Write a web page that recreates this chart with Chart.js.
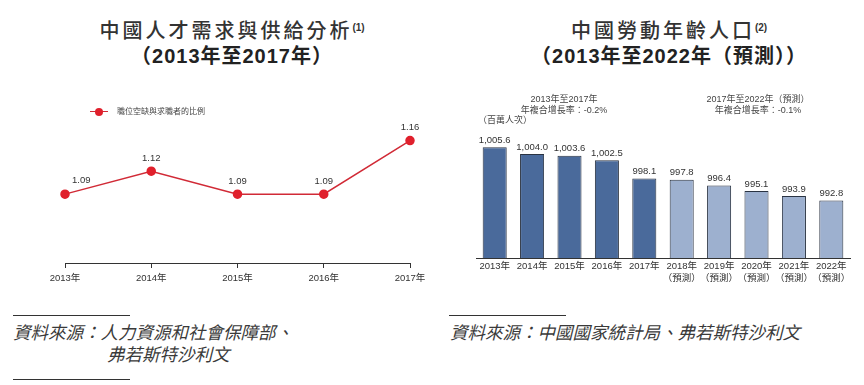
<!DOCTYPE html>
<html>
<head>
<meta charset="utf-8">
<script src="https://cdn.jsdelivr.net/npm/chart.js@4.4.1/dist/chart.umd.min.js"></script>
<style>
  html, body { margin:0; padding:0; background:#fff; }
  body { width:864px; height:385px; position:relative; overflow:hidden;
         font-family:"Liberation Sans","Noto Sans CJK TC",sans-serif; color:#333; }
  .abs { position:absolute; white-space:nowrap; }
  .t1 { font-size:20px; letter-spacing:3px; color:#333; font-weight:500; transform:translateX(-50%); line-height:24px; }
  .t2 { font-size:20px; letter-spacing:1px; color:#222; font-weight:bold; transform:translateX(-50%); line-height:24px; }
  .t1 sup { font-size:10px; letter-spacing:0; font-weight:bold; vertical-align:top; position:relative; top:-3px; }
  .wrap { position:absolute; }
  .note { font-size:9px; color:#444; transform:translateX(-50%); line-height:11px; text-align:center; }
  .src { font-family:"Liberation Serif","Noto Sans CJK TC",serif; font-style:italic; font-size:17.5px; color:#3a3a3a; line-height:22px; }
  .rule { position:absolute; height:0; border-top:1px solid #333; }
</style>
</head>
<body>
<div class="abs t1" style="left:232px; top:19px;">中國人才需求與供給分析<sup>(1)</sup></div>
<div class="abs t2" style="left:232px; top:44px;">（2013年至2017年）</div>
<div class="abs t1" style="left:669px; top:19px;">中國勞動年齡人口<sup>(2)</sup></div>
<div class="abs t2" style="left:669px; top:44px;">（2013年至2022年（預測））</div>

<div class="wrap" style="left:0; top:0; width:432px; height:293px;"><canvas id="c1"></canvas></div>
<div class="wrap" style="left:440px; top:0; width:424px; height:298px;"><canvas id="c2"></canvas></div>

<!-- legend -->
<div class="abs" style="left:90px; top:111px; width:18px; border-top:1.5px solid #d12a36;"></div>
<div class="abs" style="left:95px; top:108px; width:8px; height:8px; border-radius:50%; background:#e0202c;"></div>
<div class="abs" style="left:117px; top:106px; font-size:8px; color:#444; line-height:11px;">職位空缺與求職者的比例</div>

<!-- right annotations -->
<div class="abs note" style="left:564px; top:94px;">2013年至2017年<br>年複合增長率：-0.2%</div>
<div class="abs note" style="left:758px; top:94px;">2017年至2022年（預測）<br>年複合增長率：-0.1%</div>
<div class="abs" style="left:478px; top:115px; font-size:9px; color:#444; line-height:11px;">（百萬人次）</div>

<!-- sources -->
<div class="rule" style="left:13px; top:315px; width:117px;"></div>
<div class="abs src" style="left:13px; top:322px;">資料來源：人力資源和社會保障部、</div>
<div class="abs src" style="left:107px; top:344px;">弗若斯特沙利文</div>
<div class="rule" style="left:13px; top:379px; width:117px;"></div>
<div class="rule" style="left:449px; top:315px; width:117px;"></div>
<div class="abs src" style="left:450px; top:322px;">資料來源：中國國家統計局、弗若斯特沙利文</div>

<script>
// ---- data ----
const ratioYears = ["2013年","2014年","2015年","2016年","2017年"];
const ratioValues = [1.09, 1.12, 1.09, 1.09, 1.16];
const ratioLabel = "職位空缺與求職者的比例";

const laborYears = ["2013年","2014年","2015年","2016年","2017年","2018年","2019年","2020年","2021年","2022年"];
const laborForecast = [false,false,false,false,false,true,true,true,true,true];
const laborValues = [1005.6, 1004.0, 1003.6, 1002.5, 998.1, 997.8, 996.4, 995.1, 993.9, 992.8];

const tickFont = { family: '"Liberation Sans","Noto Sans CJK TC",sans-serif', size: 9.5, lineHeight: 1.2 };

// ---- left: line chart ----
const lineLabels = {
  id: 'lineLabels',
  afterDatasetsDraw(chart) {
    const ctx = chart.ctx;
    const meta = chart.getDatasetMeta(0);
    ctx.save();
    ctx.fillStyle = '#333';
    ctx.font = '9.5px "Liberation Sans", sans-serif';
    ctx.textBaseline = 'middle';
    meta.data.forEach((pt, i) => {
      const txt = ratioValues[i].toFixed(2);
      if (i === 0) { ctx.textAlign = 'left'; ctx.fillText(txt, pt.x + 7, pt.y - 14); }
      else { ctx.textAlign = 'center'; ctx.fillText(txt, pt.x, pt.y - 13); }
    });
    ctx.restore();
  }
};

new Chart(document.getElementById('c1'), {
  type: 'line',
  data: {
    labels: ratioYears,
    datasets: [{
      label: ratioLabel,
      data: ratioValues,
      borderColor: '#d12a36',
      borderWidth: 1.5,
      backgroundColor: '#e0202c',
      pointBackgroundColor: '#e0202c',
      pointBorderColor: '#e0202c',
      pointRadius: 4,
      tension: 0,
      clip: false
    }]
  },
  options: {
    responsive: true, maintainAspectRatio: false, animation: false,
    layout: { padding: { left: 65, right: 22, top: 110, bottom: 0 } },
    plugins: { legend: { display: false }, tooltip: { enabled: false } },
    scales: {
      y: { display: false, min: 1.0, max: 1.2 },
      x: {
        offset: false,
        grid: { display: true, drawOnChartArea: false, drawTicks: true, tickLength: 5, color: '#333', lineWidth: 1 },
        border: { display: true, color: '#333', width: 1 },
        ticks: { color: '#333', font: tickFont, padding: 5, maxRotation: 0, autoSkip: false },
        afterFit(s) { s.height = 30; }
      }
    }
  },
  plugins: [lineLabels]
});

// ---- right: bar chart ----
function fmt(v) {
  const s = v.toFixed(1);
  const [a, b] = s.split('.');
  return a.replace(/\B(?=(\d{3})+(?!\d))/g, ',') + '.' + b;
}
const barLabels = {
  id: 'barLabels',
  afterDatasetsDraw(chart) {
    const ctx = chart.ctx;
    const meta = chart.getDatasetMeta(0);
    ctx.save();
    ctx.fillStyle = '#333';
    ctx.font = '9.5px "Liberation Sans", sans-serif';
    ctx.textAlign = 'center';
    ctx.textBaseline = 'middle';
    meta.data.forEach((bar, i) => {
      ctx.fillText(fmt(laborValues[i]), bar.x, bar.y - 7);
    });
    ctx.restore();
  }
};

new Chart(document.getElementById('c2'), {
  type: 'bar',
  data: {
    labels: laborYears.map((y, i) => laborForecast[i] ? [y, '（預測）'] : y),
    datasets: [{
      data: laborValues,
      backgroundColor: laborForecast.map(f => f ? '#9db0cf' : '#4a6a9b'),
      borderColor: '#2a3342',
      borderWidth: 1,
      barPercentage: 0.643,
      categoryPercentage: 1.0
    }]
  },
  options: {
    responsive: true, maintainAspectRatio: false, animation: false,
    layout: { padding: { left: 36, right: 14, top: 129, bottom: 0 } },
    plugins: { legend: { display: false }, tooltip: { enabled: false } },
    scales: {
      y: { display: false, min: 979, max: 1010 },
      x: {
        offset: true,
        grid: { display: false, drawTicks: false },
        border: { display: true, color: '#333', width: 1 },
        ticks: { color: '#333', font: tickFont, padding: 3, maxRotation: 0, autoSkip: false },
        afterFit(s) { s.height = 40; }
      }
    }
  },
  plugins: [barLabels]
});
</script>
</body>
</html>
